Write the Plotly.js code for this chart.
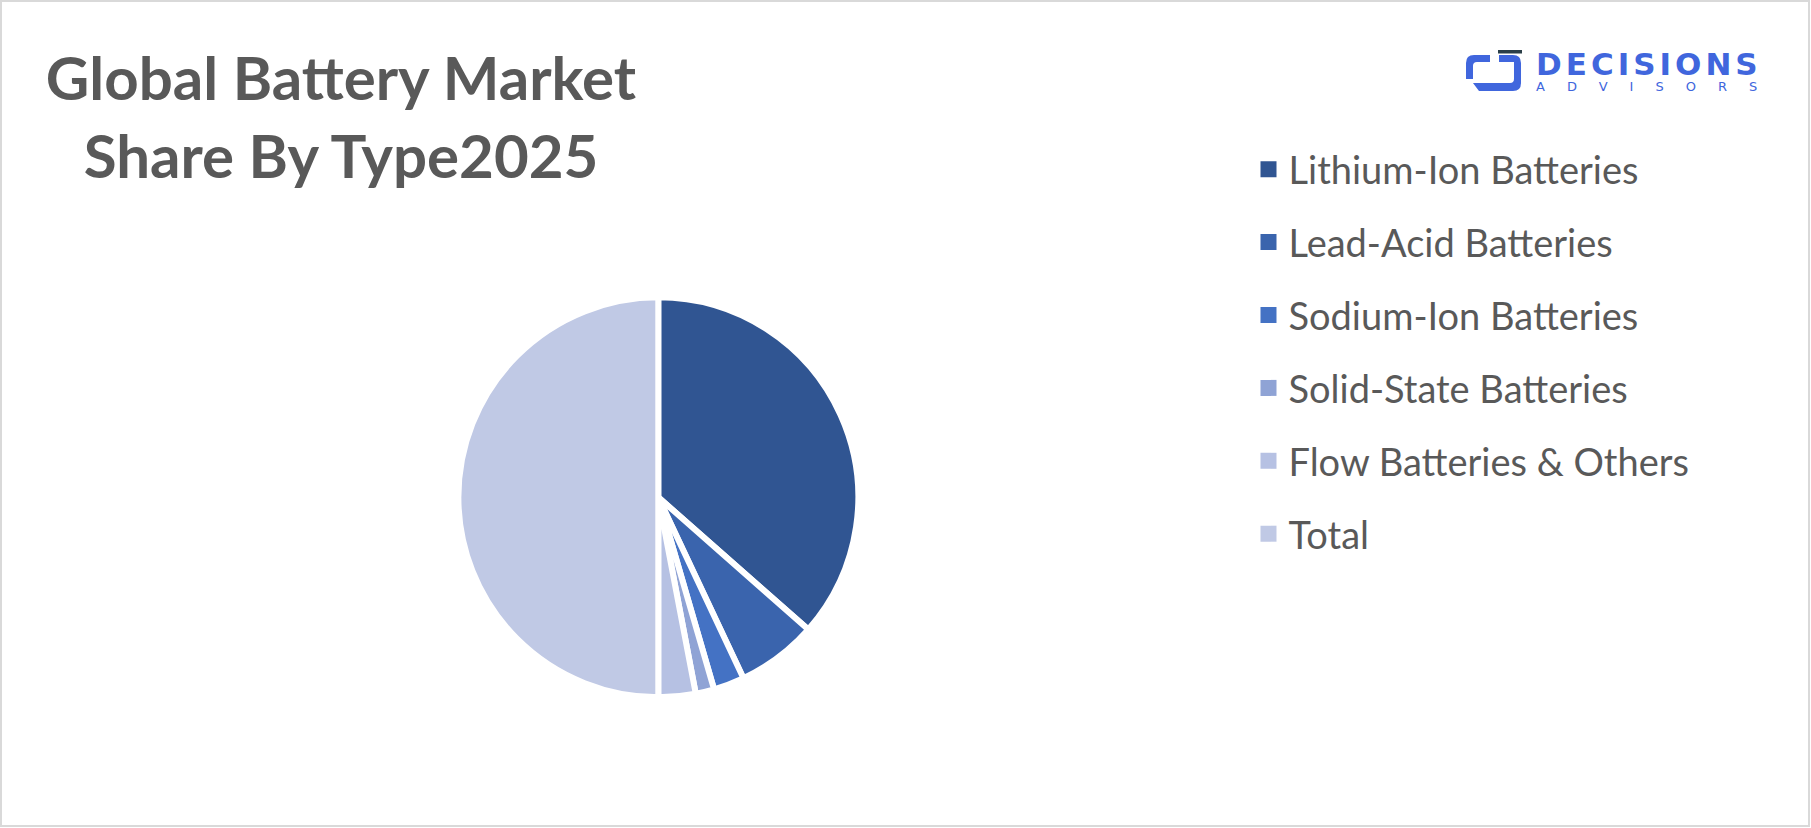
<!DOCTYPE html>
<html><head><meta charset="utf-8">
<script src="https://cdn.plot.ly/plotly-3.0.1.min.js"></script>
<style>html,body{margin:0;padding:0;background:#fff}#chart{width:1811px;height:828px}</style>
</head><body><div id="chart"></div>
<script>
const W = 1811, H = 828;
const categories = ["Lithium-Ion Batteries","Lead-Acid Batteries","Sodium-Ion Batteries","Solid-State Batteries","Flow Batteries & Others","Total"];
const shareValues = [73, 13, 5, 3, 6, 100];
const sliceColors = ["#305592","#3A64AD","#4472C4","#8FA3D5","#B6C1E3","#C0C9E5"];
const titleLines = ["Global Battery Market","Share By Type2025"];
const logoWord = "DECISIONS";
const logoSub = "ADVISORS";

const px = x => x / W;
const py = y => 1 - y / H;
function path(cmds){
  return cmds.map(c => {
    if (c.length === 1) return c[0];
    const pts = [];
    for (let i = 1; i < c.length; i += 2) pts.push(px(c[i]).toFixed(5) + ',' + py(c[i+1]).toFixed(5));
    return c[0] + ' ' + pts.join(' ');
  }).join(' ');
}

const pie = {
  type:'pie', labels:categories, values:shareValues, sort:false, direction:'clockwise', rotation:0,
  textinfo:'none', hoverinfo:'label+value',
  marker:{colors:sliceColors, line:{color:'#ffffff', width:6}},
  domain:{x:[px(658.3-200), px(658.3+200)], y:[py(497.3+200), py(497.3-200)]},
  showlegend:false
};
const legendTraces = categories.map((c,i)=>({
  type:'scatter', mode:'markers', x:[null], y:[null], name:c, legendgroup:'g'+i,
  marker:{symbol:'square', size:16, color:sliceColors[i]}, hoverinfo:'skip', showlegend:true
}));

const blue = '#4066DD';
const shapes = [
  {type:'rect', xref:'paper', yref:'paper', x0:px(1), x1:px(1809), y0:py(826), y1:py(1), line:{color:'#D9D9D9', width:2}, fillcolor:'rgba(0,0,0,0)'},
  {type:'path', xref:'paper', yref:'paper', line:{width:0}, fillcolor:blue,
   path: path([['M',1466,79],['L',1466,63],['Q',1466,55,1474,55],['L',1490,55],['L',1490,62],['L',1477,62],['Q',1473,62,1473,66],['L',1473,79],['Z']])},
  {type:'path', xref:'paper', yref:'paper', line:{width:0}, fillcolor:blue,
   path: path([['M',1499,55],['L',1513,55],['Q',1521,55,1521,63],['L',1521,83],['Q',1521,91,1513,91],['L',1479,91],['L',1473,83],['L',1510,83],['Q',1514,83,1514,79],['L',1514,62],['L',1499,62],['Z']])},
  {type:'rect', xref:'paper', yref:'paper', x0:px(1498), x1:px(1522), y0:py(53.5), y1:py(50), line:{width:0}, fillcolor:'#2B3F48'}
];

const annotations = [
  {text:'<b><span style="font-size:31px;letter-spacing:4px">'+logoWord+'</span></b><br><span style="font-size:13px;letter-spacing:22px">'+logoSub+'</span>',
   x:px(1534), xanchor:'left', align:'left', y:py(70), yanchor:'middle', xref:'paper', yref:'paper', showarrow:false,
   font:{family:'DejaVu Sans', size:12.5, color:blue}}
];

const layout = {
  width:W, height:H, margin:{l:0,r:0,t:0,b:0}, paper_bgcolor:'#ffffff', plot_bgcolor:'#ffffff',
  title:{text:'<b>'+titleLines.join('<br>')+'</b>', font:{family:'Lato, sans-serif', size:60, color:'#595959'},
    x:px(341), xanchor:'center', xref:'paper', y:py(100), yanchor:'top', yref:'paper'},
  xaxis:{visible:false, range:[0,1], fixedrange:true},
  yaxis:{visible:false, range:[0,1], fixedrange:true},
  showlegend:true,
  legend:{x:px(1248.5), xanchor:'left', y:py(138), yanchor:'top', traceorder:'grouped', tracegroupgap:20.5,
    font:{family:'Lato, sans-serif', size:38, color:'#595959'}, bgcolor:'rgba(0,0,0,0)', itemclick:false, itemdoubleclick:false},
  shapes:shapes, annotations:annotations
};
Plotly.newPlot('chart', [pie].concat(legendTraces), layout, {displayModeBar:false});
</script></body></html>
